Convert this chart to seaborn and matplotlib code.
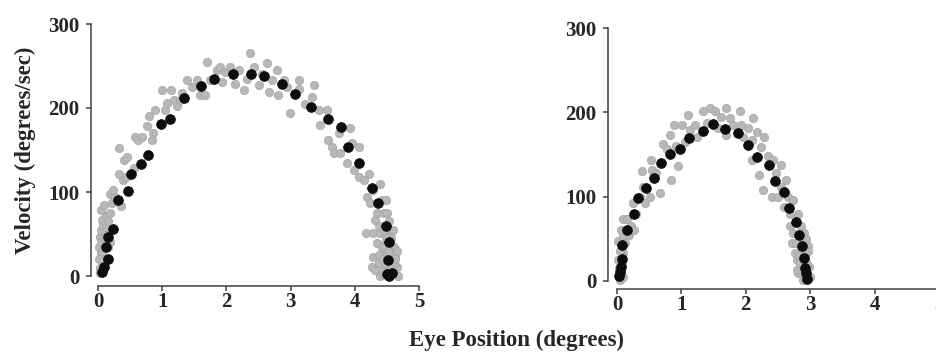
import pandas as pd
import matplotlib.pyplot as plt
import seaborn as sns

# Left panel (large saccade) - individual trials (gray) and means (black)
left_trial_x = [0.04, 0.06, 0.03, 0.01, 0.04, 0.09, 0.13, 0.19, 0.22, 0.19, 0.24, 0.27, 0.33, 0.36, 0.32,
                0.39, 0.44, 0.41, 0.45, 0.56, 0.58, 0.63, 0.68, 0.76, 0.79, 0.84, 0.89, 0.86, 1.00, 1.04,
                1.07, 1.14, 1.18, 1.23, 1.28, 1.31, 1.39, 1.47, 1.54, 1.59, 1.70, 1.66, 1.74, 1.85, 1.90,
                1.93, 1.98, 2.06, 2.14, 2.19, 2.27, 2.32, 2.37, 2.43, 2.50, 2.55, 2.63, 2.66, 2.71, 2.79,
                2.81, 2.89, 2.94, 2.99, 3.13, 3.13, 3.23, 3.36, 3.33, 3.44, 3.46, 3.56, 3.59, 3.64, 3.67,
                3.75, 3.77, 3.88, 3.93, 3.96, 3.98, 4.06, 4.06, 4.14, 4.19, 4.22, 4.24, 4.18, 4.29, 4.32,
                4.40, 4.35, 4.43, 4.45, 4.48, 4.50, 4.29, 4.35, 4.29, 4.27, 4.32, 4.40, 4.43, 4.45, 4.40,
                4.55, 4.61, 4.63, 4.66, 4.68, 4.61, 4.58, 4.37, 4.48, 4.50, 4.45, 4.37, 0.06, 0.09, 0.03,
                0.15, 0.05,
                4.42, 4.47, 4.52, 4.56, 4.60, 4.48, 4.42, 4.38, 4.47, 4.53, 4.62, 4.66, 4.57, 4.52, 4.44,
                0.05, 0.08, 0.02, 0.07, 0.11, 0.13, 0.16, 0.10, 0.18, 0.03]
left_trial_v = [79, 67, 47, 35, 27, 51, 71, 75, 87, 98, 102, 94, 152, 83, 122,
                114, 118, 138, 142, 128, 166, 162, 166, 178, 190, 162, 198, 170, 221, 198,
                206, 221, 210, 202, 210, 218, 233, 225, 233, 216, 255, 216, 233, 245, 249,
                231, 243, 249, 229, 245, 222, 235, 265, 249, 227, 241, 253, 219, 233, 245,
                215, 233, 225, 194, 233, 223, 205, 227, 213, 198, 180, 198, 162, 154, 146,
                170, 146, 134, 176, 158, 126, 154, 118, 114, 94, 122, 87, 51, 102, 67,
                110, 75, 90, 75, 90, 75, 51, 39, 23, 11, 7, 51, 27, 11, 0,
                51, 35, 23, 11, 0, 15, 27, 15, 39, 27, 55, 59, 11, 19, 3,
                35, 55,
                5, 15, 30, 45, 55, 45, 35, 25, 60, 65, 20, 30, 8, 3, 20,
                40, 60, 20, 30, 45, 58, 65, 85, 40, 10]
left_mean_x = [0.15, 0.12, 0.23, 0.15, 0.10, 0.06, 0.31, 0.47, 0.51, 0.67, 0.78, 0.98, 1.12, 1.34, 1.60,
               1.80, 2.10, 2.38, 2.59, 2.87, 3.07, 3.31, 3.59, 3.79, 3.89, 4.06, 4.27, 4.36, 4.49, 4.54,
               4.51, 4.50, 4.58, 4.54]
left_mean_v = [47, 35, 56, 20, 11, 5, 90, 101, 122, 133, 144, 181, 187, 212, 226,
               235, 241, 240, 238, 229, 217, 201, 187, 177, 153, 134, 105, 87, 59, 40,
               19, 2, 4, 0]

# Right panel (smaller saccade)
right_trial_x = [0.02, 0.01, 0.04, 0.10, 0.09, 0.10, 0.09, 0.15, 0.18, 0.21, 0.25, 0.26, 0.30, 0.36, 0.39,
                 0.40, 0.43, 0.51, 0.53, 0.55, 0.61, 0.67, 0.72, 0.78, 0.83, 0.84, 0.88, 0.91, 0.95, 1.01,
                 1.05, 1.11, 1.13, 1.21, 1.24, 1.33, 1.39, 1.44, 1.52, 1.57, 1.62, 1.69, 1.70, 1.75, 1.80,
                 1.91, 1.93, 1.96, 2.04, 2.09, 2.11, 2.09, 2.17, 2.21, 2.24, 2.29, 2.27, 2.35, 2.40, 2.42,
                 2.47, 2.50, 2.54, 2.55, 2.60, 2.63, 2.66, 2.68, 2.69, 2.71, 2.73, 2.76, 2.74, 2.79, 2.81,
                 2.81, 2.84, 2.86, 2.89, 2.91, 2.97, 2.98, 2.99, 2.89, 2.79, 2.84, 2.94,
                 2.86, 2.90, 2.93, 2.95, 2.87, 2.92, 2.78, 2.83, 2.96, 0.03, 0.05, 0.07, 0.12, 0.06]
right_trial_v = [25, 47, 1, 5, 33, 53, 74, 74, 55, 65, 92, 61, 80, 100, 130,
                 112, 92, 100, 144, 132, 128, 104, 163, 156, 173, 120, 185, 160, 136, 185,
                 165, 197, 179, 185, 171, 201, 187, 205, 201, 181, 195, 205, 173, 193, 185,
                 201, 185, 171, 181, 167, 193, 144, 177, 126, 159, 171, 108, 148, 100, 144,
                 128, 100, 138, 112, 88, 120, 100, 65, 80, 45, 96, 33, 57, 25, 80,
                 9, 49, 65, 33, 57, 41, 17, 5, 1, 13, 21, 33,
                 40, 25, 50, 20, 10, 5, 45, 30, 35, 15, 35, 20, 45, 60]
right_mean_x = [0.03, 0.04, 0.06, 0.07, 0.08, 0.16, 0.27, 0.32, 0.45, 0.57, 0.69, 0.83, 0.98, 1.12, 1.33,
                1.49, 1.67, 1.88, 2.04, 2.17, 2.36, 2.45, 2.59, 2.67, 2.78, 2.83, 2.88, 2.91, 2.92, 2.94,
                2.95]
right_mean_v = [6, 11, 17, 26, 43, 61, 80, 98, 110, 122, 140, 151, 157, 169, 178,
                186, 180, 176, 161, 147, 137, 119, 106, 86, 70, 55, 42, 27, 15, 9,
                2]

yticks = [0, 100, 200, 300]
xticks = [0, 1, 2, 3, 4, 5]

sns.set_style("ticks")
plt.rcParams['font.family'] = ['Liberation Serif', 'DejaVu Serif']
plt.rcParams['font.weight'] = 'bold'

fig = plt.figure(figsize=(9.37, 3.56), dpi=100)
# axes boxes span the data ranges (x 0..5, y 0..300); spines are pushed outward
ax_l = fig.add_axes([98 / 937, 1 - 276 / 356, 321 / 937, 252 / 356])
ax_r = fig.add_axes([617 / 937, 1 - 281 / 356, 322 / 937, 253 / 356])

# (axes, trials x, trials v, means x, means v, left offset px, bottom offset px)
panels = [
    (ax_l, left_trial_x, left_trial_v, left_mean_x, left_mean_v, 7, 10),
    (ax_r, right_trial_x, right_trial_v, right_mean_x, right_mean_v, 9, 8),
]

for ax, tx, tv, mx, mv, off_l, off_b in panels:
    trials = pd.DataFrame({'pos': tx, 'vel': tv})
    means = pd.DataFrame({'pos': mx, 'vel': mv})
    sns.scatterplot(data=trials, x='pos', y='vel', ax=ax, s=36, color='#b8b8b8',
                    edgecolor='#a5a5a5', linewidth=0.5, zorder=2, clip_on=False)
    sns.scatterplot(data=means, x='pos', y='vel', ax=ax, s=50, color='#0d0d0d',
                    edgecolor='#0d0d0d', linewidth=0.5, zorder=3, clip_on=False)
    ax.set_xlim(0, 5)
    ax.set_ylim(0, 300)
    ax.set_xticks(xticks)
    ax.set_yticks(yticks)
    ax.set_xlabel('')
    ax.set_ylabel('')
    sns.despine(ax=ax)
    ax.spines['left'].set_position(('outward', off_l * 0.72))
    ax.spines['bottom'].set_position(('outward', off_b * 0.72))
    ax.spines['left'].set_bounds(0, 300)
    ax.spines['bottom'].set_bounds(0, 5)
    for side in ['left', 'bottom']:
        ax.spines[side].set_color('#404040')
        ax.spines[side].set_linewidth(1.1)
    ax.tick_params(axis='y', length=3.5, width=1.1, color='#404040', pad=5, labelsize=15)
    ax.tick_params(axis='x', length=3.5, width=1.1, color='#404040', pad=1, labelsize=15)
    for lab in ax.get_xticklabels() + ax.get_yticklabels():
        lab.set_fontweight('bold')

fig.text(25 / 937, 1 - 150 / 356, 'Velocity (degrees/sec)', rotation=90, ha='center', va='center',
         fontsize=16.5, fontweight='bold')
fig.text(517 / 937, 1 - 340 / 356, 'Eye Position (degrees)', ha='center', va='center',
         fontsize=16.5, fontweight='bold')

fig.savefig('out.png', dpi=100)
